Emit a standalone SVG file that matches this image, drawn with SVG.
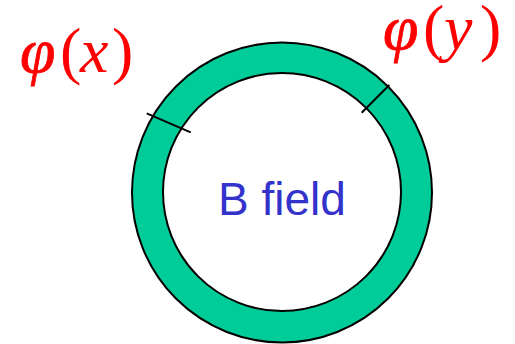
<svg xmlns="http://www.w3.org/2000/svg" width="515" height="344" viewBox="0 0 515 344">
<style>
.edge{stroke:#000;stroke-width:2;fill:none}
.lbl{font-family:"Liberation Serif","Times New Roman",serif;font-size:64px;fill:#FF0000}
.it{font-style:italic}
.ph{stroke:#FF0000;stroke-width:0.8}
.b{font-family:"Liberation Sans",Arial,sans-serif;font-size:46px;fill:#3333CC}
</style>
<rect width="515" height="344" fill="#fff"/>
<g id="ring">
<circle cx="282" cy="192.5" r="150" fill="#00CC99" stroke="#000" stroke-width="2"/>
<circle cx="282" cy="192" r="119" fill="#fff" stroke="#000" stroke-width="2"/>
</g>
<g id="connectors">
<line class="edge" x1="146.7" y1="113.3" x2="190.7" y2="132.3"/>
<line class="edge" x1="389.3" y1="85" x2="361.7" y2="112.7"/>
</g>
<g id="bfield"><text class="b" x="218" y="215">B field</text></g>
<g id="phix"><text class="lbl" y="72"><tspan class="it ph" x="20">φ</tspan><tspan x="60">(</tspan><tspan class="it" x="80">x</tspan><tspan x="112">)</tspan></text></g>
<g id="phiy"><text class="lbl" y="49"><tspan class="it ph" x="383">φ</tspan><tspan x="423">(</tspan><tspan class="it" x="444">y</tspan><tspan x="480">)</tspan></text></g>
</svg>
